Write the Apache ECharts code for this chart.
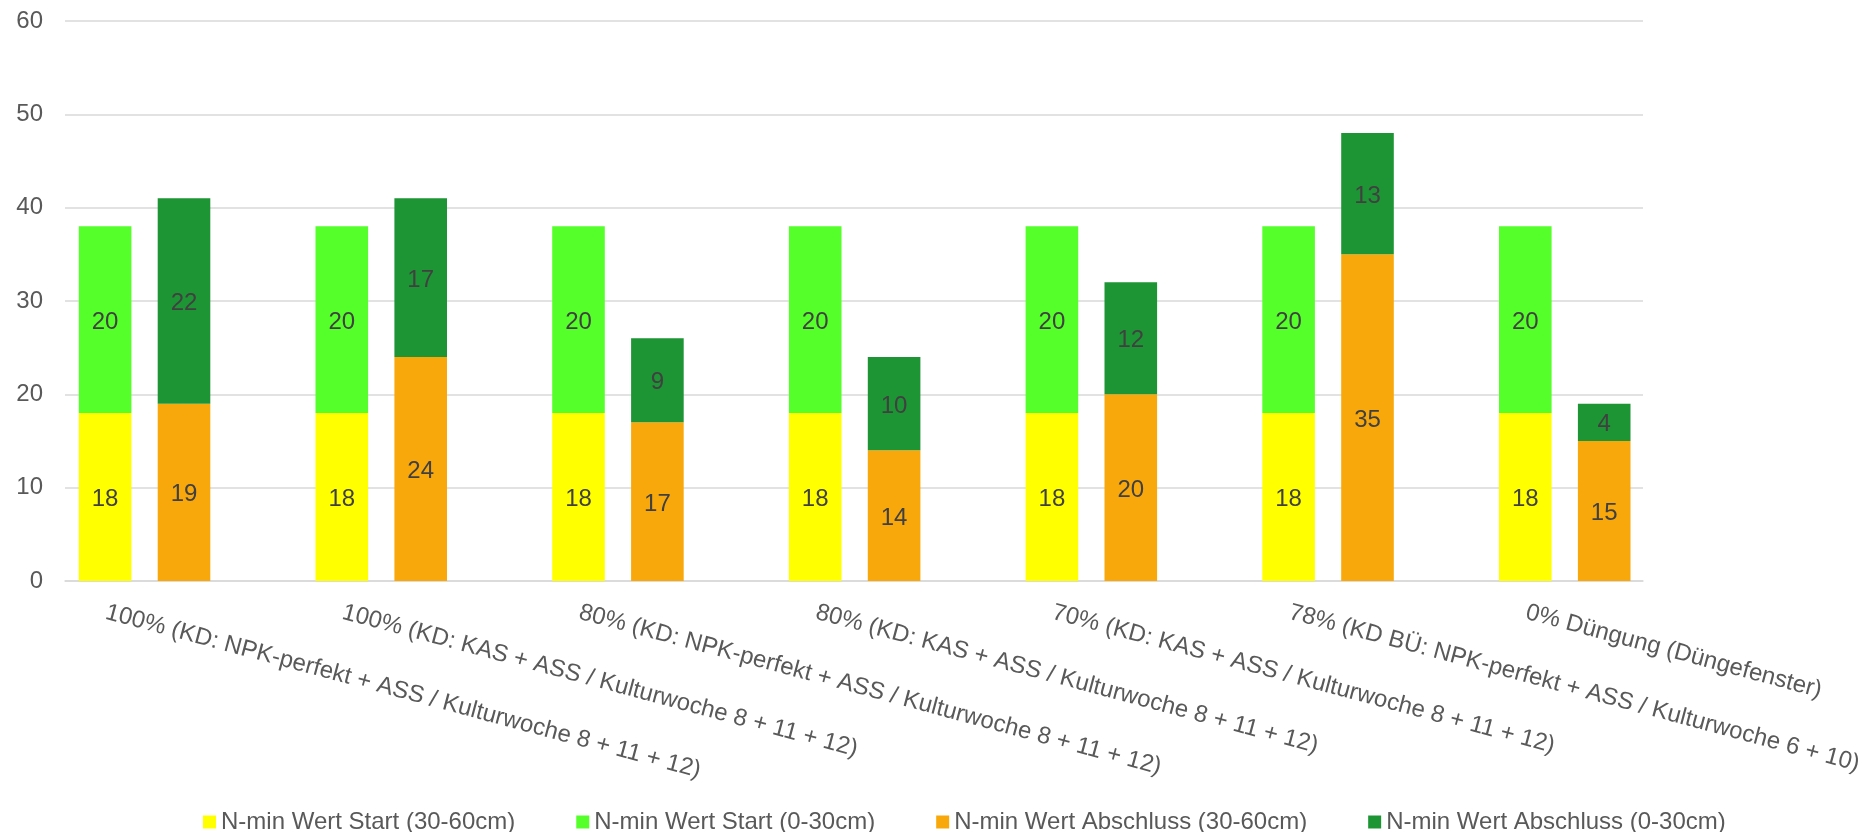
<!DOCTYPE html>
<html>
<head>
<meta charset="utf-8">
<script src="https://cdn.jsdelivr.net/npm/echarts@6/dist/echarts.min.js"></script>
<style>
  html, body { margin: 0; padding: 0; background: #ffffff; }
  #chart { width: 1872px; height: 832px; }
</style>
</head>
<body>
<div id="chart"></div>
<script>
// Treatments (Düngevarianten)
const categories = [
  '100% (KD: NPK-perfekt + ASS / Kulturwoche 8 + 11 + 12)',
  '100% (KD: KAS + ASS / Kulturwoche 8 + 11 + 12)',
  '80% (KD: NPK-perfekt + ASS / Kulturwoche 8 + 11 + 12)',
  '80% (KD: KAS + ASS / Kulturwoche 8 + 11 + 12)',
  '70% (KD: KAS + ASS / Kulturwoche 8 + 11 + 12)',
  '78% (KD BÜ: NPK-perfekt + ASS / Kulturwoche 6 + 10)',
  '0% Düngung (Düngefenster)'
];

// N-min values (kg N/ha)
const startDeep = [18, 18, 18, 18, 18, 18, 18];   // Start, 30-60cm
const startTop  = [20, 20, 20, 20, 20, 20, 20];   // Start, 0-30cm
const endDeep   = [19, 24, 17, 14, 20, 35, 15];   // Abschluss, 30-60cm
const endTop    = [22, 17, 9, 10, 12, 13, 4];     // Abschluss, 0-30cm

const seriesNames = [
  'N-min Wert Start (30-60cm)',
  'N-min Wert Start (0-30cm)',
  'N-min Wert Abschluss (30-60cm)',
  'N-min Wert Abschluss (0-30cm)'
];

const yTicks = { min: 0, max: 60, interval: 10 };

const FONT = "'Liberation Sans', Arial, sans-serif";
const TEXT = '#595959';
const GRID_LINE = '#d9d9d9';

const chart = echarts.init(document.getElementById('chart'), null, { renderer: 'canvas' });

const barCommon = {
  type: 'bar',
  xAxisIndex: 0,
  yAxisIndex: 0,
  barWidth: 52.6,
  barGap: '50%',
  label: {
    show: true,
    position: 'inside',
    offset: [0, 2.5],
    color: '#404040',
    fontFamily: FONT,
    fontSize: 24
  },
  emphasis: { disabled: true }
};

const yHidden = (gridIndex) => ({
  gridIndex: gridIndex,
  type: 'value',
  min: yTicks.min,
  max: yTicks.max,
  interval: yTicks.interval,
  show: false,
  splitLine: { show: false }
});

chart.setOption({
  backgroundColor: '#ffffff',
  animation: false,
  textStyle: { fontFamily: FONT },
  legend: {
    data: seriesNames,
    left: 198,
    top: 805,
    icon: 'rect',
    itemWidth: 13,
    itemHeight: 13,
    itemGap: 61,
    selectedMode: false,
    textStyle: { color: TEXT, fontSize: 24, fontFamily: FONT }
  },
  grid: [
    // bars
    { left: 26.2, right: 188.9, top: 21, bottom: 251, containLabel: false },
    // value axis with gridlines
    { left: 65, right: 229, top: 21, bottom: 251, containLabel: false },
    // category labels, one per tick, anchored under the first bar of each pair
    { left: 106, right: 345.8, top: 21, bottom: 251, containLabel: false }
  ],
  xAxis: [
    {
      gridIndex: 0,
      type: 'category',
      data: categories,
      axisLine: { show: false },
      axisTick: { show: false },
      axisLabel: { show: false }
    },
    {
      gridIndex: 1,
      type: 'category',
      data: categories,
      axisLine: { show: true, lineStyle: { color: GRID_LINE, width: 1.5 } },
      axisTick: { show: false },
      axisLabel: { show: false }
    },
    {
      gridIndex: 2,
      type: 'category',
      data: categories,
      boundaryGap: false,
      axisLine: { show: false },
      axisTick: { show: false },
      splitLine: { show: false },
      axisLabel: {
        interval: 0,
        rotate: -15,
        margin: 31,
        color: TEXT,
        fontSize: 24,
        fontFamily: FONT
      }
    }
  ],
  yAxis: [
    yHidden(0),
    {
      gridIndex: 1,
      type: 'value',
      min: yTicks.min,
      max: yTicks.max,
      interval: yTicks.interval,
      axisLine: { show: false },
      axisTick: { show: false },
      axisLabel: { color: TEXT, fontSize: 24, fontFamily: FONT, margin: 22, padding: [3, 0, 0, 0] },
      splitLine: { show: true, lineStyle: { color: GRID_LINE, width: 1.5 } }
    },
    yHidden(2)
  ],
  series: [
    Object.assign({}, barCommon, {
      name: seriesNames[0], stack: 'start', data: startDeep,
      itemStyle: { color: '#ffff00' }
    }),
    Object.assign({}, barCommon, {
      name: seriesNames[1], stack: 'start', data: startTop,
      itemStyle: { color: '#55ff2a' }
    }),
    Object.assign({}, barCommon, {
      name: seriesNames[2], stack: 'end', data: endDeep,
      itemStyle: { color: '#f9a80b' }
    }),
    Object.assign({}, barCommon, {
      name: seriesNames[3], stack: 'end', data: endTop,
      itemStyle: { color: '#1e9535' }
    })
  ]
});
</script>
</body>
</html>
